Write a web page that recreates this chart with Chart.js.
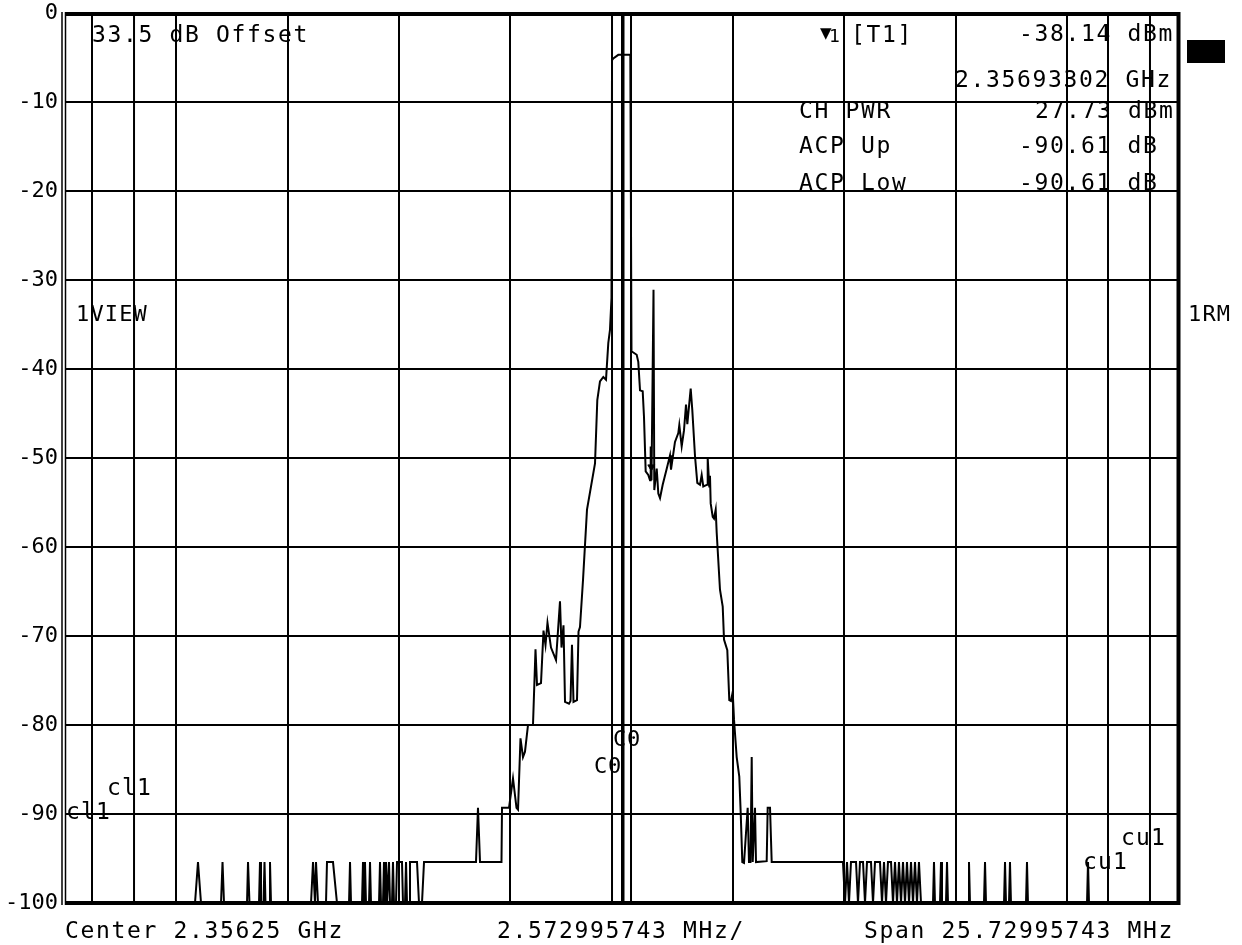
<!DOCTYPE html>
<html>
<head>
<meta charset="utf-8">
<script src="https://cdn.jsdelivr.net/npm/chart.js@4.4.1/dist/chart.umd.min.js"></script>
<style>
html, body { margin: 0; padding: 0; background: #fff; }
#wrap { width: 1242px; height: 945px; }
</style>
</head>
<body>
<div id="wrap"><canvas id="specChart" width="1242" height="945"></canvas></div>
<script>
// Spectrum analyzer screen: ACP measurement, 33.5 dB offset
// x values are MHz offset from the centre frequency, y values in dBm

const centerGHz = 2.35625;
const spanMHz = 25.72995743;
const divMHz = 2.572995743;
const levelTicks = [0, -10, -20, -30, -40, -50, -60, -70, -80, -90, -100];

// trace, split by region [MHz offset, dBm]
const lowerNoise = [
    [-12.865, -100], [-9.861, -100], [-9.792, -95.4], [-9.722, -100],
    [-9.260, -100], [-9.225, -95.4], [-9.191, -100],
    [-8.659, -100], [-8.636, -95.4], [-8.602, -100],
    [-8.382, -100], [-8.359, -95.4], [-8.336, -100],
    [-8.278, -100], [-8.255, -95.4], [-8.232, -100],
    [-8.151, -100], [-8.128, -95.4], [-8.105, -100],
    [-7.180, -100], [-7.134, -95.4], [-7.088, -100], [-7.065, -95.4], [-7.019, -100],
    [-6.834, -100], [-6.811, -95.4], [-6.672, -95.4], [-6.580, -100],
    [-6.302, -100], [-6.279, -95.4], [-6.256, -100],
    [-6.002, -100], [-5.979, -95.4], [-5.956, -100], [-5.933, -95.4], [-5.910, -100],
    [-5.840, -100], [-5.817, -95.4], [-5.794, -100],
    [-5.609, -100], [-5.586, -95.4], [-5.563, -100],
    [-5.517, -100], [-5.494, -95.4], [-5.471, -100], [-5.447, -95.4], [-5.424, -100], [-5.378, -95.4], [-5.355, -100],
    [-5.309, -100], [-5.286, -95.4], [-5.263, -100],
    [-5.216, -100], [-5.193, -95.4], [-5.078, -95.4], [-5.055, -100],
    [-5.008, -100], [-4.985, -95.4], [-4.962, -100],
    [-4.916, -100], [-4.893, -95.4], [-4.731, -95.4], [-4.685, -100],
    [-4.616, -100], [-4.569, -95.4],
    [-3.368, -95.4], [-3.322, -89.3], [-3.275, -95.4],
    [-2.779, -95.4], [-2.767, -89.3], [-2.605, -89.3]
];

const lowerShoulder = [
    [-2.513, -86], [-2.432, -89.3], [-2.397, -89.5], [-2.340, -81.5], [-2.282, -83.6],
    [-2.236, -83], [-2.166, -80], [-2.051, -80], [-1.993, -71.5], [-1.958, -75.5],
    [-1.866, -75.3], [-1.808, -69.4], [-1.762, -71], [-1.716, -68.5], [-1.635, -71.3],
    [-1.519, -72.7], [-1.473, -69.4], [-1.427, -66.1], [-1.392, -71.3], [-1.346, -68.8],
    [-1.311, -77.4], [-1.219, -77.6], [-1.184, -77.3], [-1.150, -71], [-1.115, -77.4],
    [-1.034, -77.2], [-0.999, -69.5], [-0.965, -69], [-0.895, -63.7], [-0.803, -55.8],
    [-0.618, -50.6], [-0.565, -43.5], [-0.503, -41.4], [-0.426, -40.9], [-0.364, -41.2],
    [-0.311, -37.1], [-0.272, -35.6], [-0.237, -32]
];

const mainChannel = [
    [-0.225, -5.3], [-0.195, -5.1], [-0.080, -4.7], [0.198, -4.7], [0.225, -38.0]
];

const upperShoulder = [
    [0.345, -38.4], [0.382, -39.2], [0.422, -42.4], [0.484, -42.5], [0.514, -45.4],
    [0.553, -51.5], [0.613, -51.9], [0.653, -52.5], [0.669, -48.7], [0.687, -52.5],
    [0.734, -31.1], [0.752, -53.6], [0.808, -51.2], [0.845, -54], [0.884, -54.5],
    [0.946, -53], [1.039, -51.2], [1.115, -49.7], [1.138, -51.3], [1.230, -48.2],
    [1.307, -47.2], [1.330, -46.3], [1.385, -48.7], [1.438, -46.9], [1.485, -44.0],
    [1.515, -46.2], [1.593, -42.2], [1.630, -44.6], [1.693, -49.8], [1.746, -52.8],
    [1.808, -53], [1.847, -51.9], [1.884, -53.2], [1.977, -53], [1.986, -50],
    [2.023, -53.2], [2.039, -52], [2.055, -55.1], [2.102, -56.6], [2.132, -56.8],
    [2.171, -55.8], [2.194, -58.4], [2.270, -64.8], [2.333, -66.7], [2.363, -70.4],
    [2.439, -71.6], [2.485, -77.2], [2.524, -77.3], [2.564, -76.3], [2.594, -79.4],
    [2.656, -83.6], [2.716, -85.8], [2.749, -89.9], [2.786, -95.4], [2.825, -95.5],
    [2.910, -89.3], [2.940, -95.4], [2.975, -95.4], [3.003, -83.6], [3.026, -95.4],
    [3.079, -89.3], [3.102, -95.4], [3.349, -95.3], [3.372, -89.3], [3.426, -89.3],
    [3.465, -95.4]
];

const upperNoise = [
    [5.112, -95.4], [5.159, -100], [5.205, -95.4], [5.251, -100], [5.297, -95.4],
    [5.413, -95.4], [5.459, -100], [5.505, -95.4], [5.575, -95.4], [5.621, -100],
    [5.667, -95.4], [5.759, -95.4], [5.806, -100], [5.852, -95.4], [5.967, -95.4],
    [6.014, -100], [6.060, -95.4], [6.106, -100], [6.152, -95.4], [6.222, -95.4],
    [6.268, -100], [6.314, -95.4], [6.360, -100], [6.406, -95.4], [6.453, -100],
    [6.499, -95.4], [6.545, -100], [6.591, -95.4], [6.638, -100], [6.684, -95.4],
    [6.730, -100], [6.776, -95.4], [6.822, -100], [6.868, -95.4], [6.915, -100],
    [7.192, -100], [7.215, -95.4], [7.238, -100],
    [7.354, -100], [7.377, -95.4], [7.400, -100],
    [7.492, -100], [7.516, -95.4], [7.539, -100],
    [8.001, -100], [8.024, -95.4], [8.047, -100],
    [8.370, -100], [8.394, -95.4], [8.417, -100],
    [8.833, -100], [8.856, -95.4], [8.879, -100],
    [8.948, -100], [8.971, -95.4], [8.994, -100],
    [9.341, -100], [9.364, -95.4], [9.387, -100],
    [10.751, -100], [10.774, -95.4], [10.797, -100],
    [12.865, -100]
];

// channel limit lines (MHz offset)
const lowerAdjLines = [-12.241, -11.270];
const mainChLines = [-0.225, 0.214];
const upperAdjLines = [11.236, 12.206];
const centreLine = 0.029;

// marker 1
const markerFreq = [0.683];
const markerLevel = [-51.0];

const traceData = [].concat(lowerNoise, lowerShoulder, mainChannel, upperShoulder, upperNoise)
    .map(p => ({ x: p[0], y: p[1] }));

const gridFreq = [-4, -3, -2, -1, 0, 1, 2, 3, 4].map(k => k * divMHz);

function vLine(f, width) {
    return {
        data: [{ x: f, y: -100 }, { x: f, y: 0 }],
        borderColor: '#000',
        borderWidth: width,
        pointRadius: 0
    };
}

const MONO = '"DejaVu Sans Mono", "Liberation Mono", monospace';

// draw monospaced text with fixed character pitch (plotter font look)
function plotText(ctx, str, x, y, pitch, size) {
    ctx.font = (size || 23) + 'px ' + MONO;
    for (let i = 0; i < str.length; i++) {
        ctx.fillText(str[i], x + i * pitch, y);
    }
}

const screenText = {
    id: 'screenText',
    afterDraw(chart) {
        const ctx = chart.ctx;
        const a = chart.chartArea;
        ctx.save();
        ctx.strokeStyle = '#000';
        ctx.fillStyle = '#000';

        // frame
        ctx.lineWidth = 4;
        ctx.beginPath();
        ctx.moveTo(a.left, a.top + 1);
        ctx.lineTo(a.right, a.top + 1);
        ctx.lineTo(a.right, a.bottom);
        ctx.lineTo(a.left, a.bottom);
        ctx.stroke();
        ctx.lineWidth = 1.5;
        ctx.beginPath();
        ctx.moveTo(a.left - 3, a.top - 1);
        ctx.lineTo(a.left - 3, a.bottom + 2);
        ctx.moveTo(a.left + 0.5, a.top - 1);
        ctx.lineTo(a.left + 0.5, a.bottom + 2);
        ctx.stroke();

        ctx.textBaseline = 'alphabetic';
        ctx.textAlign = 'left';
        const p = 15.5;

        plotText(ctx, '33.5 dB Offset', 92, 42, p);

        ctx.font = '15px "DejaVu Sans"';
        ctx.fillText('\u25BC', 820, 38);
        plotText(ctx, '1', 829, 42, p, 18);
        plotText(ctx, '[T1]', 851, 42, p);
        plotText(ctx, '-38.14 dBm', 1019, 41, p);
        plotText(ctx, '2.35693302 GHz', 955, 87, p);
        plotText(ctx, 'CH PWR', 799, 118, p);
        plotText(ctx, '27.73 dBm', 1035, 118, p);
        plotText(ctx, 'ACP Up', 799, 153, p);
        plotText(ctx, '-90.61 dB', 1019, 153, p);
        plotText(ctx, 'ACP Low', 799, 190, p);
        plotText(ctx, '-90.61 dB', 1019, 190, p);

        ctx.fillRect(1187, 40, 38, 23);

        plotText(ctx, '1VIEW', 76, 321, 14.4, 22);
        plotText(ctx, '1RM', 1188, 321, 14.4, 22);

        plotText(ctx, 'C0', 613, 746, 14, 22);
        plotText(ctx, 'C0', 594, 773, 14, 22);
        plotText(ctx, 'cl1', 107, 795, 15);
        plotText(ctx, 'cl1', 66, 819, 15);
        plotText(ctx, 'cu1', 1121, 845, 15);
        plotText(ctx, 'cu1', 1083, 869, 15);

        plotText(ctx, 'Center ' + centerGHz.toFixed(5) + ' GHz', 65, 938, p);
        plotText(ctx, divMHz.toFixed(9) + ' MHz/', 497, 938, p);
        plotText(ctx, 'Span ' + spanMHz.toFixed(8) + ' MHz', 864, 938, p);
        ctx.restore();
    }
};

const datasets = [
    {
        data: traceData,
        borderColor: '#000',
        borderWidth: 2,
        pointRadius: 0,
        tension: 0
    },
    {
        data: markerFreq.map((f, i) => ({ x: f, y: markerLevel[i] })),
        showLine: false,
        pointStyle: 'triangle',
        rotation: 180,
        pointRadius: 4,
        backgroundColor: '#000',
        borderColor: '#000'
    },
    vLine(centreLine, 3)
];
lowerAdjLines.concat(mainChLines, upperAdjLines).forEach(f => datasets.push(vLine(f, 2)));

new Chart(document.getElementById('specChart'), {
    type: 'line',
    data: { datasets: datasets },
    options: {
        responsive: false,
        animation: false,
        layout: {
            autoPadding: false,
            padding: { left: 0, top: 13, right: 63.5, bottom: 42 }
        },
        plugins: {
            legend: { display: false },
            tooltip: { enabled: false }
        },
        scales: {
            x: {
                type: 'linear',
                min: -spanMHz / 2,
                max: spanMHz / 2,
                afterBuildTicks: s => { s.ticks = gridFreq.map(v => ({ value: v })); },
                afterFit: s => { s.height = 0; },
                ticks: { display: false },
                border: { display: false },
                grid: { color: '#000', lineWidth: 2, drawTicks: false }
            },
            y: {
                min: -100,
                max: 0,
                afterBuildTicks: s => { s.ticks = levelTicks.map(v => ({ value: v })); },
                afterFit: s => { s.width = 65; s.paddingTop = 0; s.paddingBottom = 0; },
                ticks: {
                    color: '#000',
                    padding: 7,
                    font: { family: MONO, size: 22, lineHeight: 1 },
                    callback: v => String(v)
                },
                border: { display: false },
                grid: { color: '#000', lineWidth: 2, drawTicks: false }
            }
        }
    },
    plugins: [screenText]
});
</script>
</body>
</html>
